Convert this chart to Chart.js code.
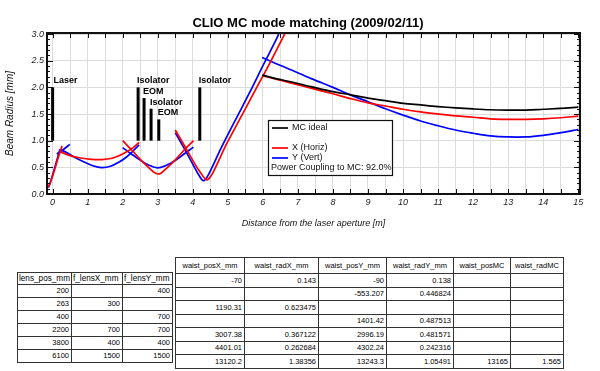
<!DOCTYPE html>
<html>
<head>
<meta charset="utf-8">
<title>CLIO MC mode matching</title>
<script src="https://cdn.jsdelivr.net/npm/chart.js@4.4.1/dist/chart.umd.min.js"></script>
<style>
  body { margin: 0; background: #fff; font-family: 'Liberation Sans', Arial, sans-serif; }
  #wrap { position: relative; width: 600px; height: 371px; overflow: hidden; }
  #chartBox { position: absolute; left: 0; top: 0; width: 600px; height: 240px; }
  table { position: absolute; border-collapse: collapse; table-layout: fixed; color: #000; border: 1.5px solid #111; }
  td { border: 1px solid #333; padding: 0 2px; text-align: right; white-space: nowrap; overflow: hidden; font-size: 7.5px; color: #000; }
  #lensTable { left: 17px; top: 272px; }
  #lensTable td { height: 12px; }
  #lensTable tr:first-child td { height: 10.5px; font-size: 8.2px; text-align: left; padding: 0 1px; }
  #waistTable { left: 175px; top: 257px; }
  #waistTable td { height: 12.5px; }
  #waistTable tr:first-child td { height: 15px; text-align: center; }
</style>
</head>
<body>
<div id="wrap">
  <div id="chartBox"><canvas id="chart"></canvas></div>
  <table id="lensTable"></table>
  <table id="waistTable"></table>
</div>
<script>
// beam radius [mm] vs distance [m], one array per lens section
// X (horizontal)
const horizSec1 = [[-0.12, 0.13], [-0.05, 0.24], [0.05, 0.44], [0.15, 0.66], [0.27, 0.9]];
const horizSec2 = [[0.2, 0.8], [0.5, 0.72], [0.8, 0.675], [1.1, 0.65], [1.4, 0.645], [1.7, 0.67], [2.0, 0.75], [2.3, 0.87], [2.47, 0.97]];
const horizSec3 = [[2.0, 1.0], [2.25, 0.83], [2.5, 0.65], [2.75, 0.49], [2.9, 0.405], [3.0, 0.375], [3.1, 0.395], [3.25, 0.48], [3.5, 0.64], [3.75, 0.82], [4.02, 1.0]];
const horizSec4 = [[3.5, 1.2], [3.75, 0.92], [4.0, 0.63], [4.2, 0.42], [4.4, 0.265], [4.52, 0.34], [4.65, 0.5], [4.95, 0.92], [5.38, 1.45], [5.81, 1.98], [6.21, 2.47], [6.62, 3.0], [6.66, 3.05]];
const horizSec5 = [[5.98, 2.22], [6.4, 2.15], [6.76, 2.09], [7.4, 1.98], [8.0, 1.88], [8.5, 1.79], [9.0, 1.71], [9.5, 1.65], [10.0, 1.59], [10.5, 1.54], [11.0, 1.5], [11.5, 1.465], [12.0, 1.44], [12.5, 1.41], [13.0, 1.4], [13.5, 1.4], [14.0, 1.41], [14.5, 1.43], [15.0, 1.46]];
// Y (vertical)
const vertSec1 = [[-0.12, 0.12], [-0.05, 0.25], [0.05, 0.47], [0.15, 0.7], [0.21, 0.84]];
const vertSec2 = [[0.12, 0.75], [0.3, 0.83], [0.49, 0.93]];
const vertSec3 = [[0.21, 0.83], [0.4, 0.78], [0.6, 0.7], [0.9, 0.6], [1.15, 0.53], [1.4, 0.495], [1.65, 0.52], [1.9, 0.6], [2.1, 0.69], [2.3, 0.81], [2.47, 0.92]];
const vertSec4 = [[2.0, 0.87], [2.25, 0.75], [2.5, 0.635], [2.75, 0.54], [3.0, 0.49], [3.25, 0.54], [3.5, 0.63], [3.75, 0.75], [4.02, 0.88]];
const vertSec5 = [[3.5, 1.15], [3.75, 0.86], [4.0, 0.56], [4.15, 0.38], [4.3, 0.25], [4.42, 0.33], [4.55, 0.5], [4.8, 0.85], [5.21, 1.38], [5.62, 1.9], [6.02, 2.43], [6.42, 2.95], [6.46, 3.04]];
const vertSec6 = [[5.98, 2.56], [6.4, 2.44], [6.76, 2.34], [7.4, 2.16], [8.0, 2.0], [8.5, 1.86], [9.0, 1.73], [9.5, 1.6], [10.0, 1.48], [10.5, 1.37], [11.0, 1.28], [11.5, 1.2], [12.0, 1.14], [12.5, 1.09], [13.0, 1.07], [13.5, 1.07], [14.0, 1.1], [14.5, 1.15], [15.0, 1.21]];
// ideal mode of the mode cleaner
const mcIdeal = [[5.98, 2.23], [6.4, 2.16], [6.76, 2.11], [7.4, 2.01], [8.0, 1.92], [8.5, 1.86], [9.0, 1.8], [9.5, 1.75], [10.0, 1.7], [10.5, 1.67], [11.0, 1.64], [11.5, 1.615], [12.0, 1.595], [12.5, 1.58], [13.0, 1.575], [13.5, 1.575], [14.0, 1.59], [14.5, 1.605], [15.0, 1.63]];

// optical components on the bench
const componentNames = ['Laser', 'Isolator', 'EOM', 'Isolator', 'EOM', 'Isolator'];
const componentPos = [0, 2.44, 2.61, 2.81, 3.03, 4.2];
const componentTop = [2.0, 2.0, 1.8, 1.6, 1.4, 2.0];
const componentBase = 1.0;

const powerCoupling = 92.0;

// tables under the plot
const lensPos = [200, 263, 400, 2200, 3800, 6100];
const fLensX = [null, 300, null, 700, 400, 1500];
const fLensY = [400, null, 700, 700, 400, 1500];
const waistPosX = [-70, null, 1190.31, null, 3007.38, 4401.01, 13120.2];
const waistRadX = [0.143, null, 0.623475, null, 0.367122, 0.262684, 1.38356];
const waistPosY = [-90, -553.207, null, 1401.42, 2996.19, 4302.24, 13243.3];
const waistRadY = [0.138, 0.446824, null, 0.487513, 0.481571, 0.242316, 1.05491];
const waistPosMC = [null, null, null, null, null, null, 13165];
const waistRadMC = [null, null, null, null, null, null, 1.565];

const FONT = "'Liberation Sans', Arial, sans-serif";

function toPoints(arr) {
  return arr.map(p => ({ x: p[0], y: p[1] }));
}

function curve(label, color, arr) {
  return {
    label: label,
    data: toPoints(arr),
    showLine: true,
    borderColor: color,
    borderWidth: 1.7,
    pointRadius: 0,
    tension: 0.35,
    fill: false
  };
}

const datasets = [];

// черные столбики компонентов
componentPos.forEach((pos, i) => {
  datasets.push({
    label: componentNames[i],
    data: [{ x: pos, y: componentBase }, { x: pos, y: componentTop[i] }],
    showLine: true,
    borderColor: '#000',
    borderWidth: 3,
    pointRadius: 0
  });
});

datasets.push(curve('MC ideal', '#000', mcIdeal));
[horizSec1, horizSec2, horizSec3, horizSec4, horizSec5].forEach(s => datasets.push(curve('X (Horiz)', '#ff0000', s)));
[vertSec1, vertSec2, vertSec3, vertSec4, vertSec5, vertSec6].forEach(s => datasets.push(curve('Y (Vert)', '#0000ff', s)));

// titles, frame, inner ticks, component labels and the legend box
const extras = {
  id: 'extras',
  afterDatasetsDraw(chart) {
    const { ctx, chartArea: a, scales: { x, y } } = chart;
    ctx.save();

    ctx.fillStyle = '#000';
    ctx.textBaseline = 'middle';
    ctx.font = 'bold 9px ' + FONT;
    componentNames.forEach((name, i) => {
      const dx = i === 0 ? 1 : -1;
      ctx.fillText(name, x.getPixelForValue(componentPos[i]) + dx, y.getPixelForValue(componentTop[i] + 0.12));
    });

    // tick marks pointing inwards
    ctx.strokeStyle = '#111';
    ctx.lineWidth = 1;
    ctx.beginPath();
    for (let v = 0; v <= 15; v += 0.5) {
      const px = Math.round(x.getPixelForValue(v)) + 0.5;
      ctx.moveTo(px, a.bottom); ctx.lineTo(px, a.bottom - 5);
      ctx.moveTo(px, a.top); ctx.lineTo(px, a.top + 5);
    }
    for (let i = 0; i <= 30; i++) {
      const py = Math.round(y.getPixelForValue(i / 10)) + 0.5;
      const len = i % 5 === 0 ? 6 : 3;
      ctx.moveTo(a.left, py); ctx.lineTo(a.left + len, py);
      ctx.moveTo(a.right, py); ctx.lineTo(a.right - len, py);
    }
    ctx.stroke();

    ctx.lineWidth = 2;
    ctx.strokeRect(a.left, a.top, a.right - a.left, a.bottom - a.top);

    // legend box
    const lx = 268, ly = 120, lw = 124, lh = 55;
    ctx.fillStyle = '#fff';
    ctx.fillRect(lx, ly, lw, lh);
    ctx.lineWidth = 1.2;
    ctx.strokeStyle = '#111';
    ctx.strokeRect(lx + 0.5, ly + 0.5, lw, lh);
    const items = [
      { label: 'MC ideal', color: '#000', y: 128 },
      { label: 'X (Horiz)', color: '#ff0000', y: 148 },
      { label: 'Y (Vert)', color: '#0000ff', y: 158 }
    ];
    ctx.font = '9px ' + FONT;
    items.forEach(it => {
      ctx.strokeStyle = it.color;
      ctx.lineWidth = 1.7;
      ctx.beginPath();
      ctx.moveTo(272, it.y); ctx.lineTo(288, it.y);
      ctx.stroke();
      ctx.fillStyle = '#111';
      ctx.fillText(it.label, 292, it.y);
    });
    ctx.fillText('Power Coupling to MC: ' + powerCoupling.toFixed(1) + '%', 271, 168);

    // chart title
    ctx.font = 'bold 13px ' + FONT;
    ctx.textAlign = 'center';
    ctx.fillStyle = '#000';
    ctx.fillText('CLIO MC mode matching (2009/02/11)', 308, 23);

    ctx.restore();
  }
};

const chart = new Chart(document.getElementById('chart'), {
  type: 'scatter',
  data: { datasets: datasets },
  options: {
    responsive: true,
    maintainAspectRatio: false,
    animation: false,
    layout: { padding: { top: 33, right: 20, left: 0, bottom: 0 } },
    plugins: {
      legend: { display: false },
      tooltip: { enabled: false }
    },
    scales: {
      x: {
        type: 'linear',
        min: -0.16,
        max: 15.05,
        afterFit: s => { s.height = 46; },
        grid: { color: '#dcdcdc', drawTicks: false },
        border: { display: false },
        ticks: {
          stepSize: 0.5,
          includeBounds: false,
          autoSkip: false,
          maxRotation: 0,
          padding: 3,
          color: '#222',
          font: { family: FONT, size: 9, style: 'italic' },
          callback: v => Number.isInteger(v) ? String(v) : ''
        },
        title: {
          display: true,
          text: 'Distance from the laser aperture [m]',
          color: '#111',
          font: { family: FONT, size: 9, style: 'italic' },
          padding: { top: 0, bottom: 11 }
        }
      },
      y: {
        type: 'linear',
        min: 0,
        max: 3.02,
        afterFit: s => { s.width = 47; },
        grid: { color: '#dcdcdc', drawTicks: false },
        border: { display: false },
        ticks: {
          stepSize: 0.5,
          includeBounds: false,
          padding: 3,
          color: '#222',
          font: { family: FONT, size: 9, style: 'italic' },
          callback: v => v.toFixed(1)
        },
        title: {
          display: true,
          text: 'Beam Radius [mm]',
          color: '#111',
          font: { family: FONT, size: 10, style: 'italic' },
          padding: { top: 4, bottom: 0 }
        }
      }
    }
  },
  plugins: [extras]
});

// таблицы линз и перетяжек
function fmt(v) {
  return v === null ? '' : String(v);
}

function fillTable(id, headers, columns) {
  const table = document.getElementById(id);
  let html = '<tr>' + headers.map(h => '<td>' + h + '</td>').join('') + '</tr>';
  for (let r = 0; r < columns[0].length; r++) {
    html += '<tr>' + columns.map(c => '<td>' + fmt(c[r]) + '</td>').join('') + '</tr>';
  }
  table.innerHTML = html;
}

fillTable('lensTable', ['lens_pos_mm', 'f_lensX_mm', 'f_lensY_mm'], [lensPos, fLensX, fLensY]);
fillTable('waistTable',
  ['waist_posX_mm', 'waist_radX_mm', 'waist_posY_mm', 'waist_radY_mm', 'waist_posMC', 'waist_radMC'],
  [waistPosX, waistRadX, waistPosY, waistRadY, waistPosMC, waistRadMC]);

function setWidths(id, widths) {
  const table = document.getElementById(id);
  table.style.width = widths.reduce((a, b) => a + b, 0) + 'px';
  const cg = document.createElement('colgroup');
  widths.forEach(w => {
    const c = document.createElement('col');
    c.style.width = w + 'px';
    cg.appendChild(c);
  });
  table.insertBefore(cg, table.firstChild);
}

setWidths('lensTable', [54, 51, 50]);
setWidths('waistTable', [69, 74, 68, 67, 57, 53]);
</script>
</body>
</html>
